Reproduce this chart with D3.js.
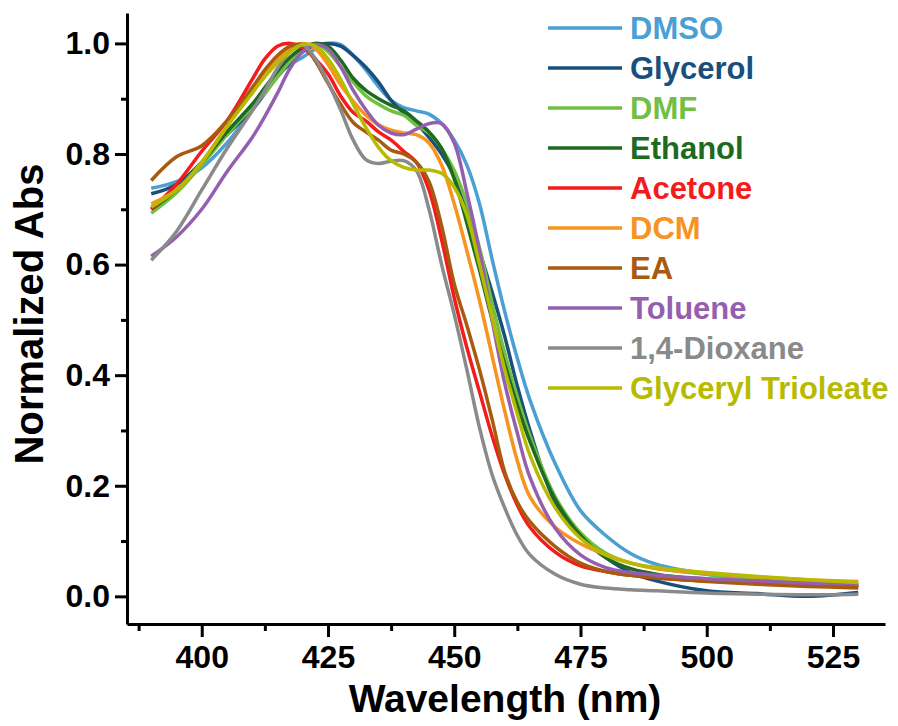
<!DOCTYPE html>
<html>
<head>
<meta charset="utf-8">
<script src="https://cdn.jsdelivr.net/npm/d3@7"></script>
<style>
  body { margin: 0; background: #fff; }
  svg text { font-family: "Liberation Sans", Arial, sans-serif; font-weight: bold; }
</style>
</head>
<body>
<figure id="chart" style="margin:0"></figure>
<script>
// wavelength grid (nm)
const wavelengths = [390, 395, 400, 405, 410, 412.5, 415, 417.5, 420, 422.5, 425, 427.5, 430, 432.5, 435, 437.5,
  440, 442.5, 445, 447.5, 450, 452.5, 455, 457.5, 460, 462.5, 465, 470, 475, 480, 485, 490, 500, 510, 520, 530];

const solvents = ["DMSO", "Glycerol", "DMF", "Ethanol", "Acetone", "DCM", "EA", "Toluene", "1,4-Dioxane", "Glyceryl Trioleate"];
const colors = ["#4a9fd3", "#1b4f7b", "#72bf44", "#1e6a21", "#f41b1c", "#f7931e", "#a85a0e", "#955fb0", "#8a8a8a", "#b8ba00"];

// normalized absorbance
const dmso     = [0.738, 0.75, 0.775, 0.82, 0.88, 0.91, 0.942, 0.962, 0.975, 0.99, 1.0, 0.998, 0.978, 0.952, 0.922, 0.897,
  0.884, 0.878, 0.872, 0.855, 0.825, 0.78, 0.71, 0.61, 0.515, 0.43, 0.355, 0.24, 0.155, 0.11, 0.077, 0.058, 0.04, 0.03, 0.023, 0.02];
const glycerol = [0.728, 0.745, 0.785, 0.835, 0.88, 0.91, 0.94, 0.965, 0.985, 0.997, 1.0, 0.995, 0.978, 0.957, 0.93, 0.897,
  0.874, 0.855, 0.83, 0.8, 0.76, 0.705, 0.625, 0.55, 0.47, 0.38, 0.3, 0.17, 0.11, 0.07, 0.043, 0.028, 0.01, 0.005, 0.0, 0.007];
const dmf      = [0.693, 0.73, 0.78, 0.835, 0.885, 0.91, 0.94, 0.968, 0.99, 1.0, 0.985, 0.958, 0.93, 0.905, 0.89, 0.878,
  0.87, 0.852, 0.838, 0.81, 0.77, 0.71, 0.63, 0.53, 0.44, 0.36, 0.29, 0.18, 0.115, 0.078, 0.06, 0.051, 0.04, 0.033, 0.027, 0.022];
const ethanol  = [0.70, 0.735, 0.785, 0.84, 0.89, 0.92, 0.95, 0.975, 0.992, 1.0, 0.995, 0.97, 0.937, 0.915, 0.9, 0.888,
  0.878, 0.86, 0.84, 0.81, 0.755, 0.675, 0.59, 0.5, 0.42, 0.345, 0.28, 0.175, 0.11, 0.07, 0.05, 0.04, 0.03, 0.025, 0.02, 0.018];
const acetone  = [0.70, 0.745, 0.805, 0.86, 0.935, 0.972, 0.995, 1.0, 0.992, 0.972, 0.945, 0.905, 0.875, 0.86, 0.84, 0.825,
  0.805, 0.785, 0.735, 0.645, 0.54, 0.45, 0.37, 0.29, 0.22, 0.165, 0.125, 0.08, 0.055, 0.045, 0.038, 0.033, 0.028, 0.025, 0.022, 0.02];
const dcm      = [0.71, 0.735, 0.785, 0.85, 0.915, 0.945, 0.97, 0.99, 1.0, 0.99, 0.962, 0.925, 0.895, 0.87, 0.853, 0.843,
  0.838, 0.835, 0.82, 0.78, 0.71, 0.625, 0.535, 0.435, 0.335, 0.245, 0.18, 0.125, 0.095, 0.075, 0.06, 0.05, 0.042, 0.035, 0.03, 0.027];
const ea       = [0.752, 0.795, 0.815, 0.86, 0.92, 0.952, 0.978, 0.995, 0.998, 0.968, 0.928, 0.89, 0.857, 0.84, 0.825, 0.807,
  0.8, 0.785, 0.75, 0.67, 0.565, 0.49, 0.41, 0.32, 0.225, 0.17, 0.135, 0.09, 0.06, 0.045, 0.038, 0.033, 0.027, 0.022, 0.018, 0.015];
const toluene  = [0.615, 0.65, 0.70, 0.768, 0.83, 0.868, 0.91, 0.955, 0.985, 0.998, 0.99, 0.958, 0.915, 0.88, 0.852, 0.838,
  0.835, 0.845, 0.855, 0.855, 0.82, 0.73, 0.625, 0.5, 0.385, 0.295, 0.215, 0.123, 0.075, 0.052, 0.043, 0.038, 0.032, 0.028, 0.024, 0.022];
const dioxane  = [0.608, 0.66, 0.735, 0.81, 0.878, 0.915, 0.955, 0.985, 0.997, 0.972, 0.93, 0.88, 0.825, 0.79, 0.783, 0.787,
  0.788, 0.77, 0.7, 0.6, 0.51, 0.41, 0.305, 0.22, 0.16, 0.11, 0.075, 0.04, 0.022, 0.015, 0.012, 0.01, 0.006, 0.004, 0.003, 0.004];
const trioleate = [0.704, 0.735, 0.785, 0.85, 0.91, 0.94, 0.965, 0.985, 0.998, 0.995, 0.972, 0.935, 0.89, 0.848, 0.812, 0.788,
  0.776, 0.771, 0.771, 0.765, 0.74, 0.69, 0.6, 0.505, 0.41, 0.33, 0.255, 0.16, 0.105, 0.075, 0.06, 0.052, 0.043, 0.036, 0.03, 0.025];

const seriesValues = [dmso, glycerol, dmf, ethanol, acetone, dcm, ea, toluene, dioxane, trioleate];

const xTicks = [400, 425, 450, 475, 500, 525];
const xMinor = [387.5, 412.5, 437.5, 462.5, 487.5, 512.5];
const yTicks = [0, 0.2, 0.4, 0.6, 0.8, 1.0];
const yMinor = [0.1, 0.3, 0.5, 0.7, 0.9];

const W = 898, H = 726;
const margin = { left: 127, top: 13, right: 13, bottom: 102 };

const svg = d3.select("figure#chart")
  .append("svg")
  .attr("width", W)
  .attr("height", H);

const x = d3.scaleLinear().domain([385.2, 535.3]).range([margin.left, W - margin.right]);
const y = d3.scaleLinear().domain([-0.05, 1.055]).range([H - margin.bottom, margin.top]);

// curves
const line = d3.line()
  .x(d => x(d[0]))
  .y(d => y(d[1]))
  .curve(d3.curveCatmullRom.alpha(0.5));

svg.append("g")
  .selectAll("path")
  .data(seriesValues)
  .enter()
  .append("path")
  .attr("d", vals => line(wavelengths.map((w, i) => [w, vals[i]])))
  .attr("fill", "none")
  .attr("stroke", (d, i) => colors[i])
  .attr("stroke-width", 3.5)
  .attr("stroke-linejoin", "round");

// axes
const xAxis = svg.append("g")
  .attr("transform", "translate(0," + (H - margin.bottom) + ")")
  .call(d3.axisBottom(x).tickValues(xTicks).tickFormat(d3.format("d")).tickSize(13).tickSizeOuter(0).tickPadding(8));
svg.append("g")
  .attr("transform", "translate(0," + (H - margin.bottom) + ")")
  .call(d3.axisBottom(x).tickValues(xMinor).tickFormat("").tickSize(7).tickSizeOuter(0))
  .select(".domain").remove();

const yAxis = svg.append("g")
  .attr("transform", "translate(" + margin.left + ",0)")
  .call(d3.axisLeft(y).tickValues(yTicks).tickFormat(d3.format(".1f")).tickSize(12).tickSizeOuter(0).tickPadding(5));
svg.append("g")
  .attr("transform", "translate(" + margin.left + ",0)")
  .call(d3.axisLeft(y).tickValues(yMinor).tickFormat("").tickSize(6).tickSizeOuter(0))
  .select(".domain").remove();

svg.selectAll(".domain").attr("stroke", "#000").attr("stroke-width", 3);
svg.selectAll(".tick line").attr("stroke", "#000").attr("stroke-width", 3);
xAxis.selectAll("text").attr("font-size", 32).attr("fill", "#000");
yAxis.selectAll("text").attr("font-size", 32).attr("fill", "#000");

// axis titles
svg.append("text")
  .attr("x", 505)
  .attr("y", 712)
  .attr("text-anchor", "middle")
  .attr("font-size", 39)
  .text("Wavelength (nm)");

svg.append("text")
  .attr("transform", "translate(43,314) rotate(-90)")
  .attr("text-anchor", "middle")
  .attr("font-size", 40)
  .text("Normalized Abs");

// legend
const legend = svg.append("g")
  .selectAll("g")
  .data(solvents)
  .enter()
  .append("g")
  .attr("transform", (d, i) => "translate(548," + (28 + i * 40) + ")");

legend.append("line")
  .attr("x1", 0).attr("x2", 74)
  .attr("stroke", (d, i) => colors[i])
  .attr("stroke-width", 3.5);

legend.append("text")
  .attr("x", 82)
  .attr("y", 11)
  .attr("font-size", 31)
  .attr("fill", (d, i) => colors[i])
  .text(d => d);
</script>
</body>
</html>
